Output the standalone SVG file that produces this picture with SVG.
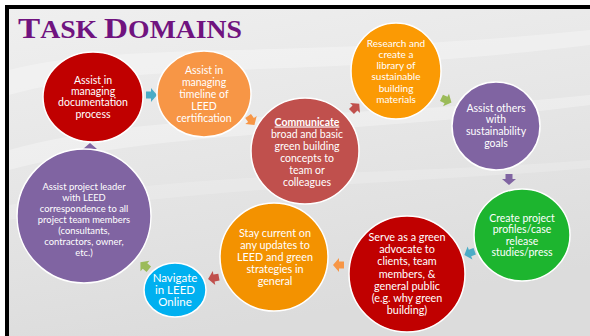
<svg xmlns="http://www.w3.org/2000/svg" width="590" height="336" viewBox="0 0 590 336">
<defs>
<linearGradient id="bg" x1="0" y1="0" x2="0.3" y2="1">
<stop offset="0" stop-color="#efefef"/>
<stop offset="0.5" stop-color="#e6e6e6"/>
<stop offset="1" stop-color="#dcdcdc"/>
</linearGradient>
<path id="arr" d="M -5,-3.5 L 0,-3.5 L 0,-7 L 6,0 L 0,7 L 0,3.5 L -5,3.5 Z"/>
<style>
.n ellipse{stroke:#ffffff;stroke-width:1.5}
.t{font-family:Lato,"Open Sans","Liberation Sans",sans-serif;fill:#ffffff;text-anchor:middle;font-size:10.5px}
</style>
</defs>
<rect x="0" y="0" width="590" height="336" fill="#ffffff"/>
<rect x="5" y="5" width="585" height="331" fill="#000000"/>
<rect x="9" y="9" width="581" height="327" fill="url(#bg)"/>
<g fill="#ffffff" opacity="0.3">
<path d="M9,70 C120,40 300,60 590,30 L590,45 C300,80 130,60 9,95 Z"/>
<path d="M9,150 C150,110 350,120 590,95 L590,105 C350,135 160,130 9,170 Z"/>
<path d="M9,205 C200,170 400,175 590,160 L590,168 C400,185 200,185 9,220 Z" opacity="0.6"/>
</g>
<text x="18" y="38" font-family="'Liberation Serif',serif" font-weight="bold" fill="#70137f" textLength="224" lengthAdjust="spacingAndGlyphs"><tspan font-size="30">T</tspan><tspan font-size="25">ASK </tspan><tspan font-size="30">D</tspan><tspan font-size="25">OMAINS</tspan></text>

<g id="connectors">
<use href="#arr" fill="#4bacc6" transform="translate(151,95)"/>
<use href="#arr" fill="#f79646" transform="translate(251,120) rotate(55)"/>
<use href="#arr" fill="#c0504d" transform="translate(355,108) rotate(-45)"/>
<use href="#arr" fill="#9bbb59" transform="translate(446,100) rotate(25)"/>
<use href="#arr" fill="#8064a2" transform="translate(509,179) rotate(90)"/>
<use href="#arr" fill="#4bacc6" transform="translate(470,253) rotate(160)"/>
<use href="#arr" fill="#f79646" transform="translate(339,265) rotate(180)"/>
<use href="#arr" fill="#c0504d" transform="translate(214,278) rotate(170)"/>
<use href="#arr" fill="#9bbb59" transform="translate(145,266) rotate(-140)"/>
<use href="#arr" fill="#8064a2" transform="translate(90,149) rotate(-90)"/>
</g>

<g id="n1" class="n"><ellipse cx="93" cy="97" rx="50" ry="45" fill="#c00000"/>
<text class="t"><tspan x="93" y="84">Assist in</tspan><tspan x="93" y="95">managing</tspan><tspan x="93" y="106">documentation</tspan><tspan x="93" y="117.5">process</tspan></text></g>

<g id="n2" class="n"><ellipse cx="204" cy="94" rx="47" ry="43" fill="#f79646"/>
<text class="t"><tspan x="204" y="73.5">Assist in</tspan><tspan x="204" y="85.5">managing</tspan><tspan x="204" y="97.5">timeline of</tspan><tspan x="204" y="109.5">LEED</tspan><tspan x="204" y="121.5">certification</tspan></text></g>

<g id="n3" class="n"><ellipse cx="305" cy="151" rx="54" ry="53" fill="#c0504d"/>
<text class="t"><tspan x="307" y="125.5" font-weight="bold" text-decoration="underline">Communicate</tspan><tspan x="307" y="137.5">broad and basic</tspan><tspan x="307" y="149.5">green building</tspan><tspan x="307" y="161.5">concepts to</tspan><tspan x="307" y="173.5">team or</tspan><tspan x="307" y="185.5">colleagues</tspan></text></g>

<g id="n4" class="n"><ellipse cx="396" cy="71" rx="45" ry="48" fill="#fb9a04"/>
<text class="t" style="font-size:10px"><tspan x="396" y="46.5">Research and</tspan><tspan x="396" y="57.8">create a</tspan><tspan x="396" y="69.1">library of</tspan><tspan x="396" y="80.4">sustainable</tspan><tspan x="396" y="91.7">building</tspan><tspan x="396" y="103">materials</tspan></text></g>

<g id="n5" class="n"><ellipse cx="496" cy="126" rx="44" ry="44" fill="#8064a2"/>
<text class="t"><tspan x="496" y="111.5">Assist others</tspan><tspan x="496" y="123.3">with</tspan><tspan x="496" y="135.1">sustainability</tspan><tspan x="496" y="146.9">goals</tspan></text></g>

<g id="n6" class="n"><ellipse cx="522" cy="235" rx="48" ry="46" fill="#1db52f"/>
<text class="t"><tspan x="522" y="221.5">Create project</tspan><tspan x="522" y="233">profiles/case</tspan><tspan x="522" y="244.5">release</tspan><tspan x="522" y="256">studies/press</tspan></text></g>

<g id="n7" class="n"><ellipse cx="407" cy="274" rx="58" ry="58" fill="#c00000"/>
<text class="t" style="font-size:10.8px"><tspan x="407" y="241">Serve as a green</tspan><tspan x="407" y="253.2">advocate to</tspan><tspan x="407" y="265.4">clients, team</tspan><tspan x="407" y="277.6">members, &amp;</tspan><tspan x="407" y="289.8">general public</tspan><tspan x="407" y="302">(e.g. why green</tspan><tspan x="407" y="314.2">building)</tspan></text></g>

<g id="n8" class="n"><ellipse cx="274" cy="257" rx="54" ry="54" fill="#f39200"/>
<text class="t" style="font-size:10.8px"><tspan x="275" y="237">Stay current on</tspan><tspan x="275" y="249">any updates to</tspan><tspan x="275" y="261">LEED and green</tspan><tspan x="275" y="273">strategies in</tspan><tspan x="275" y="285">general</tspan></text></g>

<g id="n9" class="n"><ellipse cx="175" cy="290" rx="31" ry="27" fill="#00b0f0"/>
<text class="t" style="font-size:11.5px"><tspan x="175" y="282">Navigate</tspan><tspan x="175" y="294">in LEED</tspan><tspan x="175" y="306">Online</tspan></text></g>

<g id="n10" class="n"><ellipse cx="84" cy="216" rx="67" ry="67" fill="#8064a2"/>
<text class="t" style="font-size:9.4px"><tspan x="84" y="190">Assist project leader</tspan><tspan x="84" y="201">with LEED</tspan><tspan x="84" y="212">correspondence to all</tspan><tspan x="84" y="223">project team members</tspan><tspan x="84" y="234">(consultants,</tspan><tspan x="84" y="245">contractors, owner,</tspan><tspan x="84" y="256">etc.)</tspan></text></g>
</svg>
